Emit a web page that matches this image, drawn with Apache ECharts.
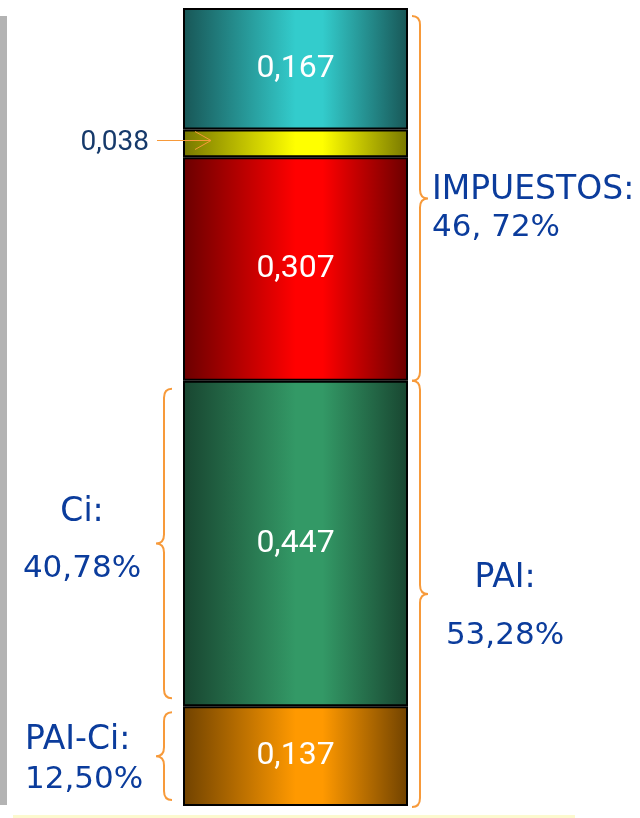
<!DOCTYPE html>
<html>
<head>
<meta charset="utf-8">
<script src="https://cdn.jsdelivr.net/npm/echarts@6/dist/echarts.min.js"></script>
<style>
  html, body { margin: 0; padding: 0; background: #fff; }
  #chart { width: 640px; height: 818px; }
</style>
</head>
<body>
<div id="chart"></div>
<script>
// segments, bottom to top
const segmentNames = ['PAI-Ci', 'Ci', 'Impuesto 1', 'Impuesto 2', 'Impuesto 3'];
const segmentValues = [0.137, 0.447, 0.307, 0.038, 0.167];
const segmentColors = [
    ['#704200', '#ff9900'],
    ['#184530', '#339966'],
    ['#6a0000', '#ff0000'],
    ['#777700', '#ffff00'],
    ['#185656', '#33cccc']
];

// braces: which segments they cover and their text
const braceLabels = ['IMPUESTOS:', 'PAI:', 'Ci:', 'PAI-Ci:'];
const bracePercents = ['46, 72%', '53,28%', '40,78%', '12,50%'];
const braceFirstSeg = [2, 0, 1, 0];
const braceLastSeg = [4, 1, 1, 0];
const braceSides = ['right', 'right', 'left', 'left'];

// segment whose label sits outside with an arrow
const calloutSeg = 3;

const cum = [0];
segmentValues.forEach((v, i) => cum.push(cum[i] + v));
const total = cum[cum.length - 1];

const fmt = (v) => v.toFixed(3).replace('.', ',');

// layout of the brace drawings (pixels)
const braceLayout = [
    {gap: 4, insetTop: 8, insetBottom: 0, tx: 4, align: 'left', ty1: -8, ty2: 30},
    {gap: 4, insetTop: 0, insetBottom: -1, tx: 77, align: 'center', ty1: -15, ty2: 42},
    {gap: 11, insetTop: 8, insetBottom: 8, tx: -74, align: 'center', ty1: -31, ty2: 25},
    {gap: 11, insetTop: 6, insetBottom: 6, tx: -131, align: 'left', ty1: -16, ty2: 24}
];
const sideFont = '"DejaVu Sans", sans-serif';
const valueFont = 'Roboto, "Open Sans", sans-serif';
const sideColor = '#0b3c9c';
const braceColor = '#f79a3a';

const chart = echarts.init(document.getElementById('chart'));

const barSeries = segmentValues.map((v, i) => ({
    name: segmentNames[i],
    type: 'bar',
    stack: 'total',
    barWidth: '100%',
    data: [v],
    itemStyle: {
        borderColor: '#000',
        borderWidth: 2,
        color: {
            type: 'linear', x: 0, y: 0, x2: 1, y2: 0,
            colorStops: [
                {offset: 0, color: segmentColors[i][0]},
                {offset: 0.5, color: segmentColors[i][1]},
                {offset: 0.62, color: segmentColors[i][1]},
                {offset: 1, color: segmentColors[i][0]}
            ]
        }
    },
    label: {
        show: i !== calloutSeg,
        position: 'inside',
        color: '#fff',
        fontFamily: valueFont,
        fontSize: 32,
        formatter: (p) => fmt(p.value)
    }
}));

const braceData = braceLabels.map((_, i) => [0, cum[braceFirstSeg[i]], cum[braceLastSeg[i] + 1], i]);

const braceSeries = {
    type: 'custom',
    silent: true,
    z: 5,
    data: braceData,
    renderItem: (params, api) => {
        const i = api.value(3);
        const yA = api.coord([0, api.value(1)])[1];
        const yB = api.coord([0, api.value(2)])[1];
        const cx = api.coord([0, 0])[0];
        const half = api.size([1, 0])[0] / 2;
        const L = braceLayout[i];
        const dir = braceSides[i] === 'right' ? 1 : -1;
        const x0 = cx + dir * (half + L.gap);
        const top = Math.min(yA, yB) + L.insetTop;
        const bottom = Math.max(yA, yB) - L.insetBottom;
        const mid = (top + bottom) / 2;
        const xm = x0 + dir * 8;
        const xt = x0 + dir * 16;
        const q = 9;
        const path = `M${x0},${top} Q${xm},${top} ${xm},${top + q} L${xm},${mid - q} ` +
            `Q${xm},${mid} ${xt},${mid} Q${xm},${mid} ${xm},${mid + q} L${xm},${bottom - q} ` +
            `Q${xm},${bottom} ${x0},${bottom}`;
        const textStyle = (text, dy, size) => ({
            type: 'text',
            style: {
                text: text, x: xt + L.tx, y: mid + dy,
                align: L.align, verticalAlign: 'middle',
                fill: sideColor, fontFamily: sideFont, fontSize: size
            }
        });
        return {
            type: 'group',
            children: [
                {type: 'path', shape: {pathData: path}, style: {fill: 'none', stroke: braceColor, lineWidth: 2}},
                textStyle(braceLabels[i], L.ty1, 33),
                textStyle(bracePercents[i], L.ty2, 31)
            ]
        };
    }
};

const calloutSeries = {
    type: 'custom',
    silent: true,
    z: 10,
    data: [[0, cum[calloutSeg] + segmentValues[calloutSeg] / 2, segmentValues[calloutSeg]]],
    renderItem: (params, api) => {
        const y = Math.round(api.coord([0, api.value(1)])[1]) - 2.5;
        const left = api.coord([0, 0])[0] - api.size([1, 0])[0] / 2;
        const xs = left - 26, xe = left + 28;
        return {
            type: 'group',
            children: [
                {type: 'line', shape: {x1: xs, y1: y, x2: xe, y2: y}, style: {stroke: braceColor, lineWidth: 1}},
                {type: 'polyline', shape: {points: [[xe - 16, y - 9], [xe, y], [xe - 16, y + 9]]},
                    style: {fill: null, stroke: braceColor, lineWidth: 1}},
                {type: 'text', style: {
                    text: fmt(api.value(2)), x: xs - 8, y: y + 2,
                    align: 'right', verticalAlign: 'middle',
                    fill: '#163a6b', fontFamily: valueFont, fontSize: 28
                }}
            ]
        };
    }
};

chart.setOption({
    animation: false,
    backgroundColor: '#fff',
    grid: {left: 183, right: 232, top: 8, bottom: 12},
    xAxis: {type: 'category', data: [''], show: false},
    yAxis: {type: 'value', min: 0, max: total, show: false},
    graphic: [
        {type: 'rect', left: 0, top: 16, shape: {width: 7, height: 789}, style: {fill: '#b3b3b3'}},
        {type: 'rect', left: 13, top: 815, shape: {width: 562, height: 3}, style: {fill: '#fcf9cf'}}
    ],
    series: [...barSeries, braceSeries, calloutSeries]
});
</script>
</body>
</html>
